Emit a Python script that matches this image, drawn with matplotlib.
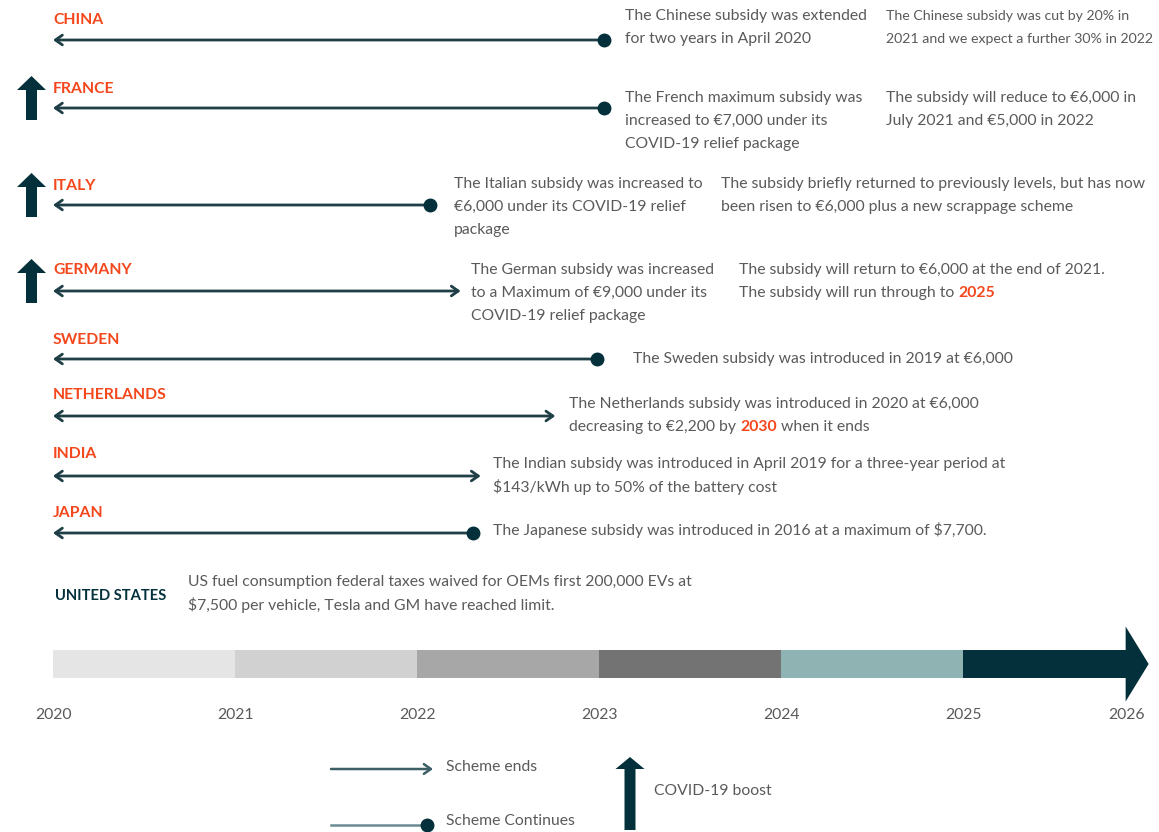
import matplotlib
matplotlib.use('Agg')
import matplotlib.pyplot as plt
from matplotlib import font_manager

installed = {f.name for f in font_manager.fontManager.ttflist}
BODY = 'Lato' if 'Lato' in installed else 'DejaVu Sans'
NARROW = 'Liberation Sans Narrow' if 'Liberation Sans Narrow' in installed else BODY

# ---- data ----
countries = ['CHINA', 'FRANCE', 'ITALY', 'GERMANY', 'SWEDEN', 'NETHERLANDS', 'INDIA', 'JAPAN']
scheme_end = [2023.03, 2023.03, 2022.07, 2022.24, 2022.99, 2022.76, 2022.35, 2022.31]
scheme_continues = [True, True, True, False, True, False, False, True]
covid_boost = [False, True, True, True, False, False, False, False]

notes_now = [
    [[('The Chinese subsidy was extended', 'g')], [('for two years in April 2020', 'g')]],
    [[('The French maximum subsidy was', 'g')], [('increased to €7,000 under its', 'g')],
     [('COVID-19 relief package', 'g')]],
    [[('The Italian subsidy was increased to', 'g')], [('€6,000 under its COVID-19 relief', 'g')],
     [('package', 'g')]],
    [[('The German subsidy was increased', 'g')], [('to a Maximum of €9,000 under its', 'g')],
     [('COVID-19 relief package', 'g')]],
    [[('The Sweden subsidy was introduced in 2019 at €6,000', 'g')]],
    [[('The Netherlands subsidy was introduced in 2020 at €6,000', 'g')],
     [('decreasing to €2,200 by', 'g'), ('2030', 'o'), ('when it ends', 'g')]],
    [[('The Indian subsidy was introduced in April 2019 for a three-year period at', 'g')],
     [('$143/kWh up to 50% of the battery cost', 'g')]],
    [[('The Japanese subsidy was introduced in 2016 at a maximum of $7,700.', 'g')]],
]
notes_outlook = [
    [[('The Chinese subsidy was cut by 20% in', 'g')], [('2021 and we expect a further 30% in 2022', 'g')]],
    [[('The subsidy will reduce to €6,000 in', 'g')], [('July 2021 and €5,000 in 2022', 'g')]],
    [[('The subsidy briefly returned to previously levels, but has now', 'g')],
     [('been risen to €6,000 plus a new scrappage scheme', 'g')]],
    [[('The subsidy will return to €6,000 at the end of 2021.', 'g')],
     [('The subsidy will run through to', 'g'), ('2025', 'o')]],
    None, None, None, None,
]

us_label = 'UNITED STATES'
us_note = ['US fuel consumption federal taxes waived for OEMs first 200,000 EVs at',
           '$7,500 per vehicle, Tesla and GM have reached limit.']

years = [2020, 2021, 2022, 2023, 2024, 2025, 2026]
year_colors = ['#e5e5e5', '#d1d1d1', '#a7a7a7', '#737373', '#8fb2b2', '#03303a']

# ---- layout (pixels) ----
row_y = [40, 108, 205, 291, 359, 416, 476, 533]
label_y = [20, 89, 186, 270, 340, 395, 454, 513]
note_x = [625, 625, 454, 471, 633, 569, 493, 493]
note_y = [16, 98, 184, 270, 359, 404, 464, 530]
outlook_x = [886, 886, 721, 739]
LINE_H = 23

ORANGE = '#f4471c'
TEAL = '#03303a'
LINE = '#1f3f46'
GREY = '#5a5a5a'

X0, PX_PER_YEAR = 53, 182


def yr(px):
    return 2020 + (px - X0) / PX_PER_YEAR


fig = plt.figure(figsize=(11.59, 8.32), dpi=100)
ax = fig.add_axes([0, 0, 1, 1])
ax.set_xlim(yr(0), yr(1159))
ax.set_ylim(832, 0)
ax.axis('off')
renderer = fig.canvas.get_renderer()


def width_px(s, **kw):
    t = ax.text(0, 0, s, **kw)
    w = t.get_window_extent(renderer).width
    t.remove()
    return w


def draw_line(x, y, parts, size=11.3, family=BODY):
    gap = width_px('a a', fontsize=size, family=family) - width_px('aa', fontsize=size, family=family)
    for s, c in parts:
        kw = dict(fontsize=size, family=family)
        if c == 'o':
            kw.update(color=ORANGE, fontweight='bold')
        else:
            kw.update(color=GREY)
        ax.text(x, y, s, va='center', ha='left', **kw)
        x += (width_px(s, **kw) + gap) / PX_PER_YEAR


def draw_note(px, py, lines, size=11.3, family=BODY):
    for i, parts in enumerate(lines):
        draw_line(yr(px), py + i * LINE_H, parts, size, family)


for i, name in enumerate(countries):
    y = row_y[i]
    ax.text(yr(53), label_y[i], name, color=ORANGE, fontsize=11.3, fontweight='bold',
            family=NARROW, va='center', ha='left')
    style = '->' if scheme_continues[i] else '<->'
    ax.annotate('', xy=(2020, y), xytext=(scheme_end[i], y),
                arrowprops=dict(arrowstyle=style + ',head_length=0.5,head_width=0.35',
                                color=LINE, lw=2, shrinkA=0, shrinkB=0, mutation_scale=10))
    if scheme_continues[i]:
        ax.plot(scheme_end[i], y, 'o', color=TEAL, markersize=9, zorder=3)
    if covid_boost[i]:
        ax.arrow(yr(31.5), y + 12, 0, -44, width=11 / PX_PER_YEAR, head_width=29 / PX_PER_YEAR,
                 head_length=14, length_includes_head=True, color=TEAL, lw=0)
    draw_note(note_x[i], note_y[i], notes_now[i])
    if notes_outlook[i] is not None:
        if i == 0:
            draw_note(outlook_x[i], note_y[i], notes_outlook[i], size=10.2, family=NARROW)
        else:
            draw_note(outlook_x[i], note_y[i], notes_outlook[i])

# United States
ax.text(yr(55), 596, us_label, color=TEAL, fontsize=10.6, fontweight='bold',
        family=NARROW, va='center', ha='left')
draw_note(188, 582, [[(s, 'g')] for s in us_note])

# timeline bar
bar_y, bar_h = 664, 28
ax.barh(bar_y, [1] * 5, left=years[:5], height=bar_h, color=year_colors[:5], lw=0)
ax.arrow(years[5], bar_y, 1.02, 0, width=bar_h, head_width=75, head_length=23 / PX_PER_YEAR,
         length_includes_head=True, color=year_colors[5], lw=0)
for yv in years:
    ax.text(yv, 715, str(yv), color=GREY, fontsize=11.3, family=BODY,
            ha='right' if yv == years[-1] else 'center', va='center')

# legend
ax.annotate('', xy=(yr(433), 769), xytext=(yr(331), 769),
            arrowprops=dict(arrowstyle='->,head_length=0.5,head_width=0.35', color='#3d5f66',
                            lw=1.8, shrinkA=0, shrinkB=0, mutation_scale=10))
ax.text(yr(446), 767, 'Scheme ends', color=GREY, fontsize=11.3, family=BODY, va='center')
ax.plot([yr(331), yr(427)], [825, 825], color='#6c8b90', lw=1.8)
ax.plot(yr(427), 825, 'o', color=TEAL, markersize=9)
ax.text(yr(446), 821, 'Scheme Continues', color=GREY, fontsize=11.3, family=BODY, va='center')
ax.arrow(yr(630), 830, 0, -73, width=11 / PX_PER_YEAR, head_width=29 / PX_PER_YEAR,
         head_length=12, length_includes_head=True, color=TEAL, lw=0)
ax.text(yr(654), 791, 'COVID-19 boost', color=GREY, fontsize=11.3, family=BODY, va='center')

fig.savefig('out.png', dpi=100)
